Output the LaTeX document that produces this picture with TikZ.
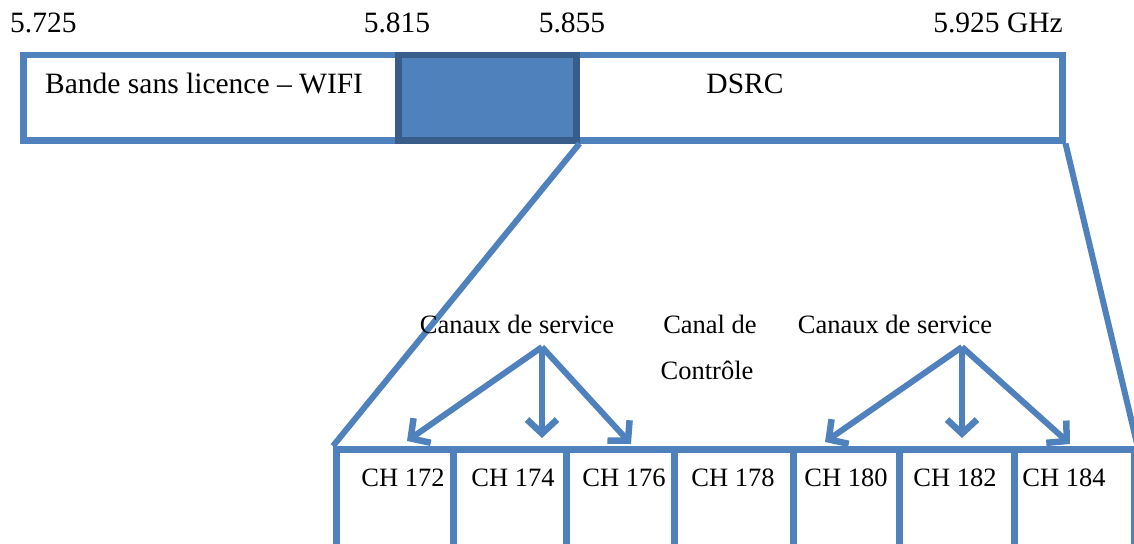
\documentclass[tikz,border=0pt]{standalone}
\usepackage{fontspec}
\setmainfont{Liberation Serif}
\usetikzlibrary{arrows.meta}
\definecolor{bandblue}{HTML}{4F81BD}
\definecolor{banddark}{HTML}{385D8A}
\tikzset{
  bandbox/.style={draw=bandblue, line width=6.5pt, fill=white, inner sep=0pt, anchor=north west},
  selbox/.style={draw=banddark, line width=6.5pt, fill=bandblue, inner sep=0pt, anchor=north west},
  chbox/.style={draw=bandblue, line width=6.5pt, fill=white, inner sep=0pt, anchor=north west,
                minimum height=130pt},
  zoomline/.style={draw=bandblue, line width=6pt},
  chanarrow/.style={draw=bandblue, line width=6pt,
                    -{Straight Barb[length=14pt,width=30pt,line width=6.5pt]}},
  bigtxt/.style={font=\fontsize{29.5}{34}\selectfont, inner sep=0pt, anchor=base},
  smalltxt/.style={font=\fontsize{26.5}{30}\selectfont, inner sep=0pt, anchor=base}
}
\begin{document}
\begin{tikzpicture}[x=1pt,y=-1pt]
\useasboundingbox (0,0) rectangle (1134,543);
\clip (0,0) rectangle (1134,543);

% frequency band
\node[bandbox, minimum width=1039pt, minimum height=85pt] (band) at (20,52) {};
\node[selbox, minimum width=178pt, minimum height=85pt] (sel) at (395,52) {};

\node[bigtxt, anchor=base west] (f1) at (10,33) {5.725};
\node[bigtxt] (f2) at (397,33) {5.815};
\node[bigtxt] (f3) at (572,33) {5.855};
\node[bigtxt, anchor=base east] (f4) at (1063,33) {5.925 GHz};
\node[bigtxt, anchor=base west] (wifi) at (45,93) {Bande sans licence -- WIFI};
\node[bigtxt] (dsrc) at (745,93) {DSRC};

% channel row
\node[chbox, minimum width=117pt] (c172) at (333,446) {};
\node[chbox, minimum width=113pt] (c174) at (450,446) {};
\node[chbox, minimum width=108pt] (c176) at (563,446) {};
\node[chbox, minimum width=119pt] (c178) at (671,446) {};
\node[chbox, minimum width=106pt] (c180) at (790,446) {};
\node[chbox, minimum width=115pt] (c182) at (896,446) {};
\node[chbox, minimum width=120pt] (c184) at (1011,446) {};

\node[smalltxt] (t172) at (403,486) {CH 172};
\node[smalltxt] (t174) at (513,486) {CH 174};
\node[smalltxt] (t176) at (624,486) {CH 176};
\node[smalltxt] (t178) at (733,486) {CH 178};
\node[smalltxt] (t180) at (846,486) {CH 180};
\node[smalltxt] (t182) at (955,486) {CH 182};
\node[smalltxt] (t184) at (1064,486) {CH 184};

% zoom lines from the band to the channel row
\draw[zoomline] (sel.south east) -- (c172.north west);
\draw[zoomline] (band.south east) -- (c184.north east);

% channel type labels
\node[smalltxt] (svc1) at (517,333) {Canaux de service};
\node[smalltxt] (ctl1) at (710,333) {Canal de};
\node[smalltxt] (ctl2) at (707,379) {Contrôle};
\node[smalltxt] (svc2) at (895,333) {Canaux de service};

% arrows to the service channels
\coordinate (s1) at (542,347);
\coordinate (s2) at (962,347);
\coordinate (a172) at (407,441);
\coordinate (a174) at (542,438);
\coordinate (a176) at (631,444);
\coordinate (a180) at (825,442);
\coordinate (a182) at (962,438);
\coordinate (a184) at (1070,444);
\draw[chanarrow] (s1) -- (a172);
\draw[chanarrow] (s1) -- (a174);
\draw[chanarrow] (s1) -- (a176);
\draw[chanarrow] (s2) -- (a180);
\draw[chanarrow] (s2) -- (a182);
\draw[chanarrow] (s2) -- (a184);
\end{tikzpicture}
\end{document}
